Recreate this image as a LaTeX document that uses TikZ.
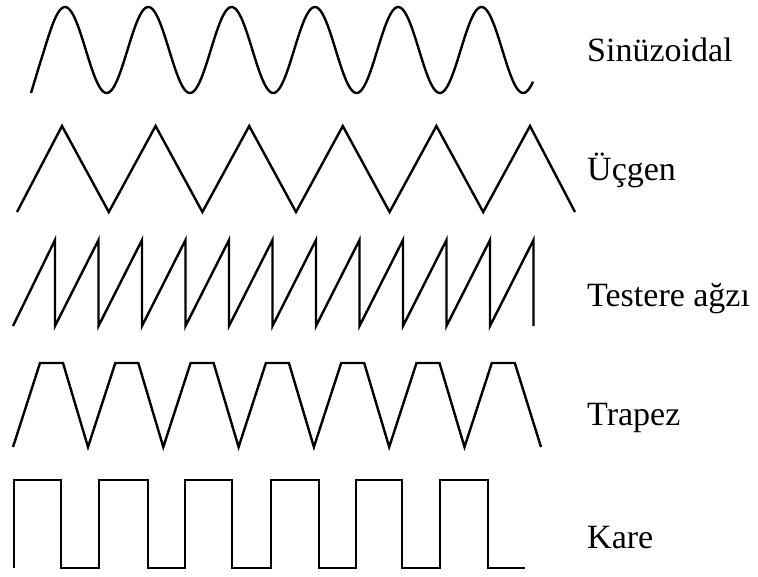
\documentclass[tikz,border=0pt]{standalone}
\usepackage{fontspec}
\setmainfont{Liberation Serif}
\begin{document}
\begin{tikzpicture}[x=1pt,y=-1pt,
  wave/.style={line width=2.4pt,black},
  lbl/.style={anchor=base west,inner sep=0pt,font=\fontsize{34}{40}\selectfont}]
\useasboundingbox (0,0) rectangle (758,576);
% Sinusoidal
\draw[wave] (31,93) -- plot[domain=40:533,samples=400] (\x,{50-43*cos(4.3217*(\x-65))});
% Triangle
\draw[wave] (17,212) -- (62,126) -- (108.8,212) -- (155.6,126) -- (202.4,212)
  -- (249.2,126) -- (296,212) -- (342.8,126) -- (389.6,212) -- (436.4,126)
  -- (483.2,212) -- (530,126) -- (575,212);
% Sawtooth
\draw[wave] (13,326) \foreach \k in {0,...,11}{ -- ({55+43.5*\k},240) -- ({55+43.5*\k},326) };
% Trapezoid
\draw[wave] (13,447) \foreach \k in {0,...,5}{ -- ({40+75.3*\k},363) -- ({63+75.3*\k},363) -- ({88+75.3*\k},447) }
  -- (491.8,363) -- (514.8,363) -- (541,447);
% Square
\draw[wave] (14,568) -- (14,480) -- (61,480) -- (61,568) -- (99,568) -- (99,480)
  -- (148,480) -- (148,568) -- (185,568) -- (185,480) -- (232,480) -- (232,568)
  -- (271,568) -- (271,480) -- (319,480) -- (319,568) -- (356,568) -- (356,480)
  -- (402,480) -- (402,568) -- (440,568) -- (440,480) -- (488,480) -- (488,568)
  -- (525,568);
% Labels
\node[lbl] (sin) at (587,61) {Sinüzoidal};
\node[lbl] (ucg) at (587,180) {Üçgen};
\node[lbl] (tes) at (587,306) {Testere ağzı};
\node[lbl] (tra) at (587,425) {Trapez};
\node[lbl] (kar) at (587,548) {Kare};
\end{tikzpicture}
\end{document}
